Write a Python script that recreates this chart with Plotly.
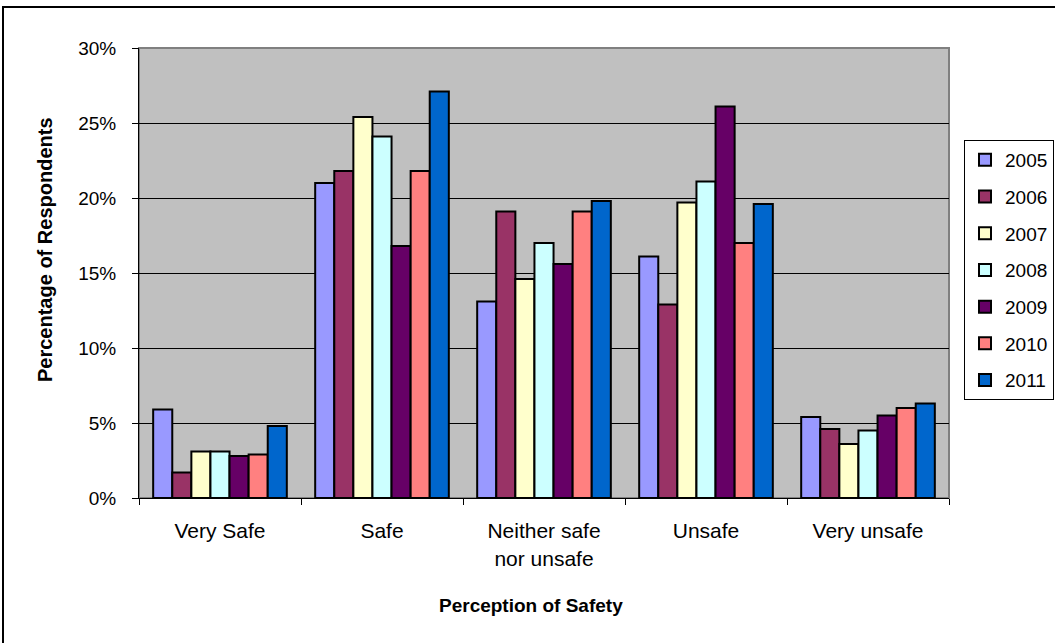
import plotly.graph_objects as go

categories = ["Very Safe", "Safe", "Neither safe<br>nor unsafe", "Unsafe", "Very unsafe"]
years = ["2005", "2006", "2007", "2008", "2009", "2010", "2011"]

# Percentage of respondents per year, one list per category order above
pct_2005 = [5.9, 21.0, 13.1, 16.1, 5.4]
pct_2006 = [1.7, 21.8, 19.1, 12.9, 4.6]
pct_2007 = [3.1, 25.4, 14.6, 19.7, 3.6]
pct_2008 = [3.1, 24.1, 17.0, 21.1, 4.5]
pct_2009 = [2.8, 16.8, 15.6, 26.1, 5.5]
pct_2010 = [2.9, 21.8, 19.1, 17.0, 6.0]
pct_2011 = [4.8, 27.1, 19.8, 19.6, 6.3]

series = [pct_2005, pct_2006, pct_2007, pct_2008, pct_2009, pct_2010, pct_2011]
colors = ["#9999FF", "#993366", "#FFFFCC", "#CCFFFF", "#660066", "#FF8080", "#0066CC"]

y_ticks = [0, 5, 10, 15, 20, 25, 30]
y_tick_labels = [f"{v}%" for v in y_ticks]

x_title = "Perception of Safety"
y_title = "Percentage of Respondents"

FONT = "Arial, Liberation Sans, sans-serif"

fig = go.Figure()
for yr, vals, col in zip(years, series, colors):
    fig.add_trace(go.Bar(
        x=categories, y=vals, name=yr, legendgroup=yr,
        marker=dict(color=col, line=dict(color="black", width=2)),
    ))

W, H = 1055, 643
L, R, T, B = 139, 106, 48, 145
pw, ph = W - L - R, H - T - B

def px_x(p):
    return (p - L) / pw

def px_y(p):
    return (H - B - p) / ph

fig.update_layout(
    width=W, height=H,
    margin=dict(l=L, r=R, t=T, b=B, autoexpand=False),
    paper_bgcolor="white",
    plot_bgcolor="#C0C0C0",
    barmode="group",
    bargap=0.175,
    bargroupgap=0,
    font=dict(family=FONT, color="black", size=19),
    showlegend=True,
    legend=dict(
        x=px_x(964), y=px_y(140), xanchor="left", yanchor="top",
        bgcolor="white", bordercolor="black", borderwidth=1,
        font=dict(size=19, family=FONT),
        tracegroupgap=9,
        itemwidth=30,
    ),
    xaxis=dict(
        showline=True, linecolor="black", linewidth=1,
        ticks="outside", ticklen=6, tickcolor="black",
        tickson="boundaries",
        tickfont=dict(size=21, family=FONT),
        ticklabelstandoff=14,
    ),
    yaxis=dict(
        range=[0, 30], tickmode="array", tickvals=y_ticks, ticktext=y_tick_labels,
        showline=True, linecolor="black", linewidth=1,
        ticks="outside", ticklen=6, tickcolor="black",
        showgrid=True, gridcolor="black", gridwidth=1,
        zeroline=False,
        tickfont=dict(size=19, family=FONT),
        ticklabelstandoff=12,
    ),
    annotations=[
        dict(text=f"<b>{x_title}</b>", xref="paper", yref="paper",
             x=px_x(531), y=px_y(605), xanchor="center", yanchor="middle",
             showarrow=False, font=dict(size=19, family=FONT)),
        dict(text=f"<b>{y_title}</b>", xref="paper", yref="paper",
             x=px_x(45), y=px_y(250), xanchor="center", yanchor="middle",
             textangle=-90, showarrow=False, font=dict(size=20, family=FONT)),
    ],
    shapes=[
        # gray frame of the plotting area
        dict(type="rect", xref="paper", yref="paper", x0=0, y0=0, x1=1, y1=1,
             line=dict(color="#808080", width=2), layer="below"),
        # outer chart border
        dict(type="rect", xref="paper", yref="paper",
             x0=px_x(3), y0=px_y(700), x1=px_x(1100), y1=px_y(7),
             line=dict(color="black", width=2)),
    ],
)

fig.write_html("out.html")
